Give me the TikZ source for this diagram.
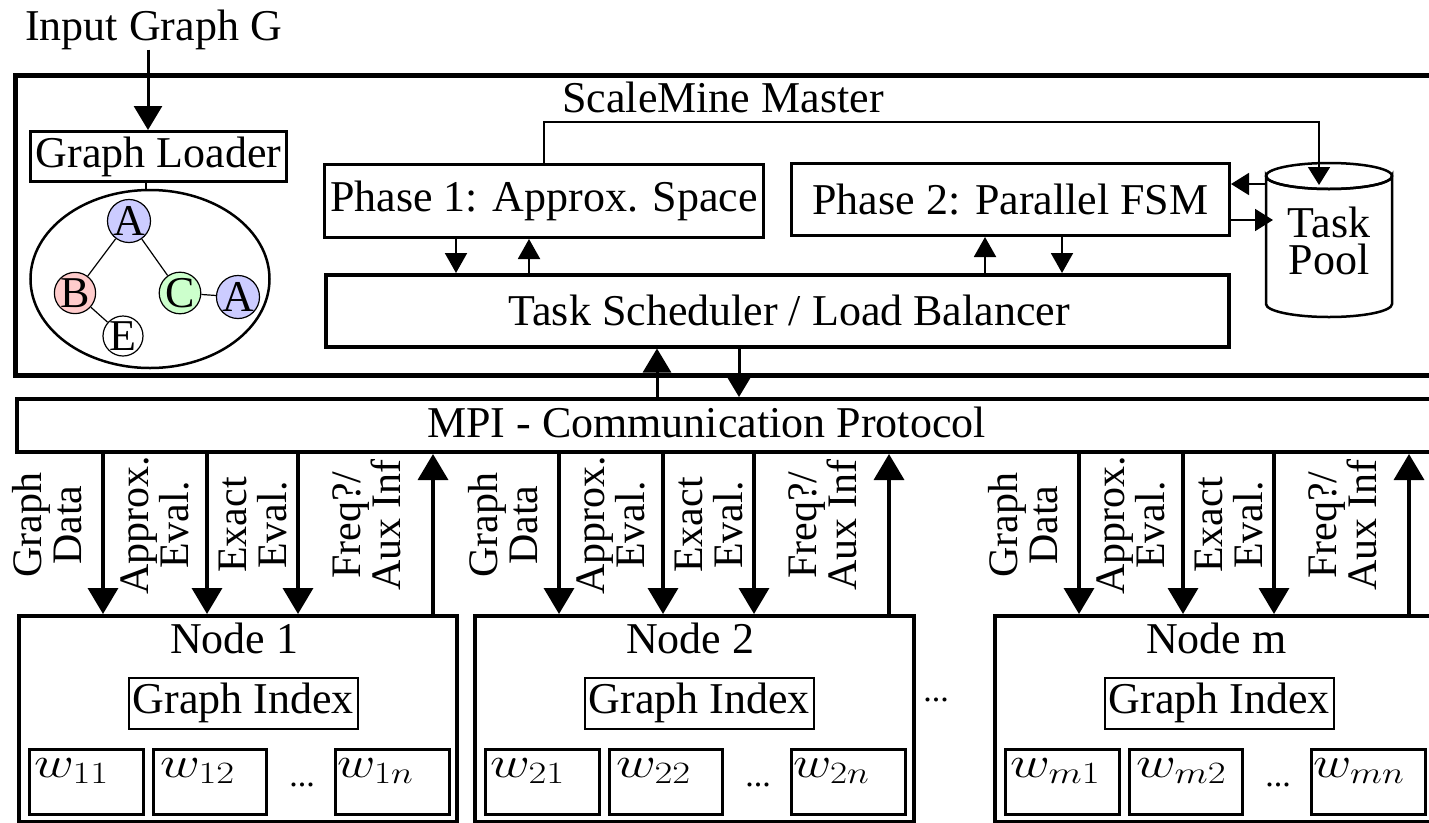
\RequirePackage{fix-cm}
\documentclass[tikz,border=0pt]{standalone}
\usepackage[no-math]{fontspec}
\usepackage{graphicx}
\setmainfont{Liberation Serif}
\DeclareMathSizes{44}{44}{31}{22}
\usetikzlibrary{arrows.meta,calc,shapes.geometric}
\begin{document}
\begin{tikzpicture}[x=1pt,y=-1pt,
  font=\fontsize{44}{48}\selectfont,
  frame/.style={draw, line width=4.5pt, inner sep=0},
  box/.style={draw, line width=3pt, inner sep=0},
  thinbox/.style={draw, line width=1.5pt, inner sep=0},
  wbox/.style={draw, line width=2.5pt, inner sep=0},
  txt/.style={inner sep=0},
  lbl/.style={rotate=90, align=center, inner sep=0, font=\fontsize{42}{40}\selectfont},
  gnode/.style={circle, draw, line width=1.2pt, inner sep=0, minimum size=40pt},
  gedge/.style={line width=1.2pt},
  bigarr/.style={line width=3.5pt, -{Triangle[length=26pt,width=30pt]}},
  midarr/.style={line width=3pt, -{Triangle[length=24pt,width=28pt]}},
  smallarr/.style={line width=2pt, -{Triangle[length=20pt,width=22pt]}},
  thinarr/.style={line width=1.8pt, -{Triangle[length=18pt,width=22pt]}},
  dots/.style={inner sep=0, font=\fontsize{34}{38}\selectfont}
]
\useasboundingbox (0,0) rectangle (1429,822);
\clip (0,0) rectangle (1429,822);

% ---------- input + master frame ----------
\node[txt, anchor=base west] (ig) at (25,40) {Input Graph G};
\node[frame, anchor=north west, minimum width=1445pt, minimum height=300pt] (master) at (13,73) {};
\node[txt, anchor=base] (mtitle) at (723,112) {ScaleMine Master};

\node[box, anchor=north west, minimum width=256pt, minimum height=50pt] (loader) at (29,130) {Graph Loader};
\coordinate (ia) at (148,0);
\draw[midarr] (ig.south -| ia) -- (loader.north -| ia);

% ---------- graph ----------
\node[ellipse, draw, line width=2.5pt, inner sep=0, minimum width=239pt, minimum height=178pt] (gel) at (150,279) {};
\coordinate (lk) at (146,0);
\draw[line width=1.5pt] (loader.south -| lk) -- (gel.north -| lk);
\node[gnode, fill=blue!20] (ga) at (129,221) {A};
\node[gnode, fill=red!20] (gb) at (75,293) {B};
\node[gnode, fill=green!20] (gc) at (180,293) {C};
\node[gnode, fill=blue!20] (ga2) at (238,297) {A};
\node[gnode, fill=white] (ge) at (123,336) {E};
\draw[gedge] (ga) -- (gb);
\draw[gedge] (ga) -- (gc);
\draw[gedge] (gc) -- (ga2);
\draw[gedge] (gb) -- (ge);

% ---------- phases / scheduler ----------
\node[box, anchor=north west, minimum width=439pt, minimum height=73pt] (p1) at (323,163) {Phase 1: Approx. Space};
\node[box, anchor=north west, minimum width=438pt, minimum height=72pt] (p2) at (790,162) {Phase 2: Parallel FSM};
\node[box, line width=3.5pt, anchor=north west, minimum width=903pt, minimum height=72pt] (sched) at (324,273) {\hspace*{24pt}Task Scheduler / Load Balancer};

\coordinate (xa) at (456,0);
\coordinate (xb) at (529,0);
\coordinate (xc) at (985,0);
\coordinate (xd) at (1062,0);
\draw[smallarr] (p1.south -| xa) -- (sched.north -| xa);
\draw[smallarr] (sched.north -| xb) -- (p1.south -| xb);
\draw[smallarr] (sched.north -| xc) -- (p2.south -| xc);
\draw[smallarr] (p2.south -| xd) -- (sched.north -| xd);

% ---------- task pool ----------
\draw[line width=2.5pt, fill=white] (1266,176) -- (1266,304)
  arc[start angle=180, end angle=0, x radius=63, y radius=13] -- (1392,176)
  arc[start angle=0, end angle=180, x radius=63, y radius=13] -- cycle;
\draw[line width=2.5pt] (1329,176) ellipse[x radius=63, y radius=13];
\node[txt, align=center, font=\fontsize{44}{37}\selectfont] (pool) at (1329,241) {Task\\Pool};

\coordinate (tc1) at (544,122);
\coordinate (tc2) at (1319,122);
\coordinate (pooltop) at (1319,185);
\coordinate (poolL) at (1266,0);
\draw[thinarr] (p1.north -| tc1) -- (tc1) -- (tc2) -- (pooltop);
\coordinate (ya) at (0,184);
\coordinate (yb) at (0,220);
\coordinate (pin) at (1273,220);
\draw[thinarr] (poolL |- ya) -- (p2.east |- ya);
\draw[thinarr] (p2.east |- yb) -- (pin);

% ---------- MPI ----------
\node[frame, line width=4pt, anchor=north west, minimum width=1440pt, minimum height=53pt] (mpi) at (15,397) {};
\node[txt, anchor=base west] (mpitext) at (427,437) {MPI - Communication Protocol};
\coordinate (xe) at (657,0);
\coordinate (xf) at (739,0);
\draw[midarr] (mpi.north -| xe) -- (sched.south -| xe);
\draw[midarr] (sched.south -| xf) -- (mpi.north -| xf);

% ---------- worker nodes ----------
\node[dots, anchor=base] (mdots) at (936,701) {...};

\foreach \lx/\nid/\ttl/\wa/\wb/\wc/\bw in {17/n1/{Node 1}/11/12/1n/438, 473/n2/{Node 2}/21/22/2n/439, 993/nm/{Node m}/m1/m2/mn/460}{
  \node[frame, line width=4pt, anchor=north west, minimum width=\bw*1pt, minimum height=206pt] (\nid) at (\lx,614) {};
  \node[txt, anchor=base west] (\nid t) at ({\lx+153},653) {\ttl};
  \node[thinbox, anchor=north west, minimum width=229pt, minimum height=51pt] (\nid gi) at ({\lx+111},677) {Graph Index};
  \node[wbox, anchor=north west, minimum width=114pt, minimum height=65pt] (\nid wa) at ({\lx+11},748) {};
  \node[wbox, anchor=north west, minimum width=113pt, minimum height=65pt] (\nid wb) at ({\lx+135},748) {};
  \node[wbox, anchor=north west, minimum width=114pt, minimum height=65pt] (\nid wc) at ({\lx+317},748) {};
  \node[txt, anchor=base west] (\nid wat) at ({\lx+17},777) {\scalebox{1.25}[1]{$w_{\wa}$}};
  \node[txt, anchor=base west] (\nid wbt) at ({\lx+143},777) {\scalebox{1.25}[1]{$w_{\wb}$}};
  \node[txt, anchor=base west] (\nid wct) at ({\lx+320},777) {\scalebox{1.2}[1]{$w_{\wc}$}};
  \node[dots, anchor=base] (\nid dots) at ({\lx+285},786) {...};
  \coordinate (\nid xa) at ({\lx+86},0);
  \coordinate (\nid xb) at ({\lx+190},0);
  \coordinate (\nid xc) at ({\lx+281},0);
  \coordinate (\nid xd) at ({\lx+416},0);
  \draw[bigarr] (mpi.south -| \nid xa) -- (\nid.north -| \nid xa);
  \draw[bigarr] (mpi.south -| \nid xb) -- (\nid.north -| \nid xb);
  \draw[bigarr] (mpi.south -| \nid xc) -- (\nid.north -| \nid xc);
  \draw[bigarr] (\nid.north -| \nid xd) -- (mpi.south -| \nid xd);
  \node[lbl] (\nid la) at ({\lx+30},525) {Graph\\Data};
  \node[lbl] (\nid lb) at ({\lx+138},525) {Approx.\\Eval.};
  \node[lbl] (\nid lc) at ({\lx+236},525) {Exact\\Eval.};
  \node[lbl] (\nid ld) at ({\lx+350},525) {Freq?/\\Aux Inf};
}
\end{tikzpicture}
\end{document}
